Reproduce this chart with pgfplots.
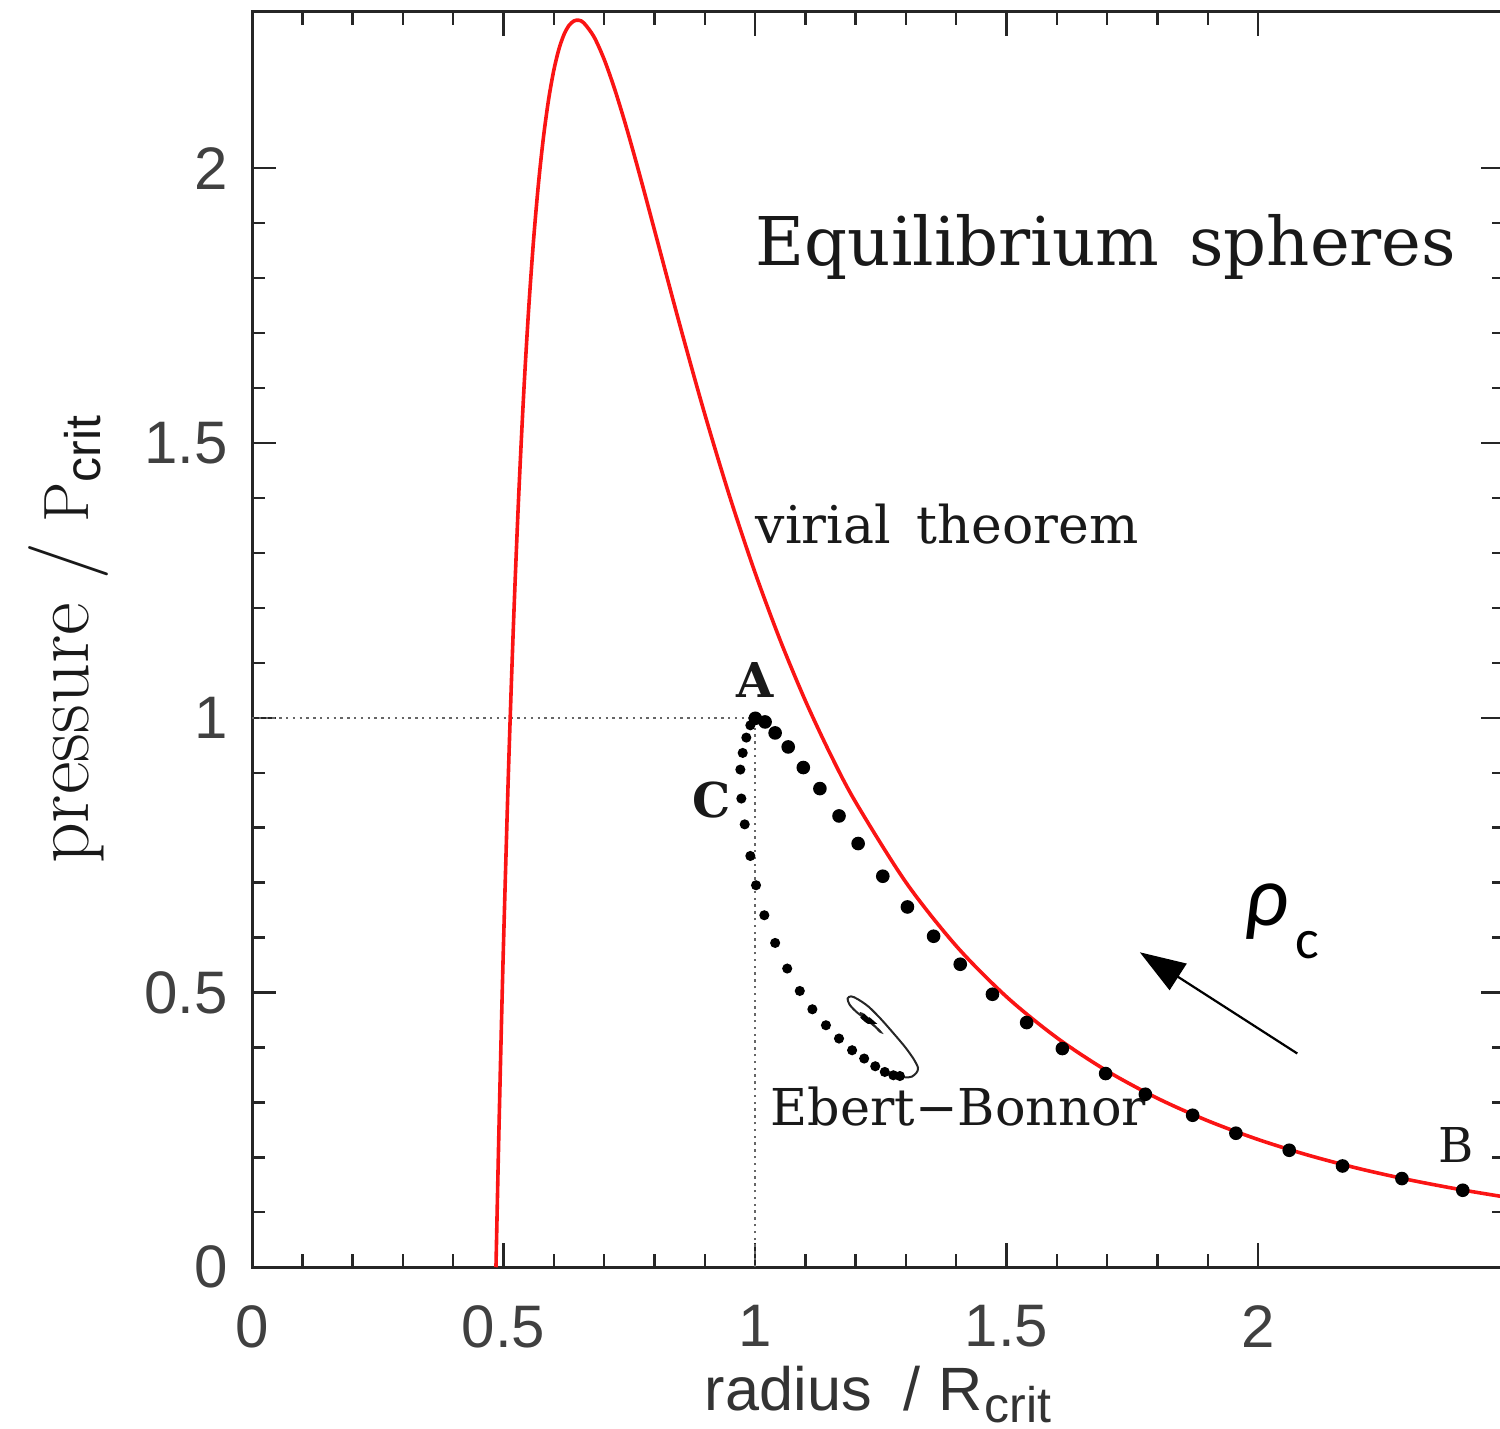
\documentclass[border=0pt]{standalone}
\usepackage{fontspec}
\usepackage{pgfplots}
\pgfplotsset{compat=1.18}
\usetikzlibrary{arrows.meta}
\setmainfont{DejaVu Serif}
\newfontfamily\labelserif{DejaVu Serif}
\newfontfamily\lmroman{Latin Modern Roman}
\newfontfamily\ticksans{Liberation Sans}
\newfontfamily\carlito{Carlito}
\definecolor{virialred}{RGB}{250,20,20}

\begin{document}
\begin{tikzpicture}
\begin{axis}[
  scale only axis,
  width=313.1pt, height=313.8pt,
  xmin=0, xmax=2.49, ymin=0, ymax=2.2845,
  xtick={0,0.5,1,1.5,2},
  ytick={0,0.5,1,1.5,2},
  minor x tick num=4, minor y tick num=4,
  tick align=inside,
  major tick length=6pt, minor tick length=3.2pt,
  axis line style={line width=0.75pt, black!85},
  every tick/.style={line width=0.6pt, black!85},
  tick label style={font=\ticksans\fontsize{15}{18}\selectfont, black!75},
  /pgf/number format/assume math mode=true,
  xticklabel style={yshift=-6pt},
  yticklabel style={xshift=-2.5pt},
  clip=false,
]

% reference lines through the critical point A
\addplot[black!60, line width=0.5pt, dash pattern=on 0.6pt off 1.1pt]
  coordinates {(0,1) (1,1)};
\addplot[black!60, line width=0.5pt, dash pattern=on 0.6pt off 1.1pt]
  coordinates {(1,0) (1,1)};

% virial theorem curve
\addplot[virialred, line width=0.9pt, smooth] coordinates {
(0.485,0) (0.49,0.2129) (0.495,0.4089) (0.50,0.5892) (0.51,0.9072)
(0.52,1.1752) (0.53,1.4001) (0.54,1.5879) (0.55,1.7439) (0.56,1.8723)
(0.57,1.9769) (0.58,2.0609) (0.59,2.1273) (0.60,2.1784) (0.61,2.2164)
(0.62,2.2429) (0.63,2.2597) (0.64,2.2681) (0.65,2.2693) (0.66,2.2642)
(0.68,2.2390) (0.70,2.1984) (0.72,2.1468) (0.74,2.0877) (0.76,2.0236)
(0.78,1.9566) (0.80,1.8880) (0.85,1.7166) (0.90,1.5529) (0.95,1.4016)
(1.00,1.2643) (1.05,1.1412) (1.10,1.0312) (1.15,0.9334) (1.20,0.8465)
(1.30,0.7005) (1.40,0.5847) (1.50,0.4922) (1.60,0.4177) (1.70,0.3571)
(1.80,0.3075) (1.90,0.2666) (2.00,0.2325) (2.10,0.2039) (2.20,0.1797)
(2.30,0.1592) (2.40,0.1417) (2.49,0.1280)
};

% Ebert-Bonnor spheres: stable branch from A to B
\addplot[only marks, mark=*, mark size=1.5pt, black] coordinates {
(1.0006,0.999) (1.020,0.9924) (1.040,0.9724) (1.066,0.9469) (1.096,0.9094)
(1.129,0.8711) (1.167,0.8213) (1.205,0.7711) (1.254,0.7116) (1.303,0.6557)
(1.355,0.6024) (1.408,0.5514) (1.472,0.4968) (1.540,0.4453) (1.611,0.3980)
(1.697,0.3525) (1.776,0.3148) (1.870,0.2766) (1.956,0.2439) (2.062,0.2129)
(2.168,0.1843) (2.286,0.1614) (2.407,0.1401)
};

% unstable branch through C
\addplot[only marks, mark=*, mark size=1.05pt, black] coordinates {
(0.9907,0.9863) (0.9827,0.9639) (0.9755,0.9360) (0.9708,0.9057) (0.9728,0.8530)
(0.9795,0.8060) (0.9907,0.7485) (1.0020,0.6952) (1.0185,0.6406) (1.0400,0.5902)
(1.064,0.5436) (1.089,0.5028) (1.114,0.4695) (1.141,0.4404) (1.167,0.4162)
(1.193,0.3949) (1.217,0.3798) (1.239,0.3658) (1.258,0.3554) (1.275,0.3494)
(1.288,0.3480)
};

% spiral towards the singular isothermal sphere
\addplot[black!85, line width=0.5pt, smooth] coordinates {
(1.288,0.3480) (1.300,0.3455) (1.312,0.3470) (1.321,0.3540) (1.324,0.3630)
(1.316,0.3780) (1.299,0.4000) (1.276,0.4250) (1.251,0.4510) (1.226,0.4740)
(1.204,0.4880) (1.191,0.4930) (1.184,0.4890) (1.188,0.4780) (1.200,0.4660)
(1.215,0.4550) (1.232,0.4430) (1.245,0.4330) (1.250,0.4280) (1.247,0.4300)
(1.237,0.4400) (1.225,0.4520) (1.215,0.4600) (1.211,0.4620) (1.213,0.4580)
(1.220,0.4520) (1.226,0.4480) (1.228,0.4480) (1.224,0.4510) (1.220,0.4530)
(1.219,0.4520) (1.221,0.4500)
};
\addplot[black, line width=1.4pt, smooth] coordinates {
(1.213,0.4580) (1.220,0.4520) (1.226,0.4480) (1.228,0.4480) (1.224,0.4510)
};

% direction of increasing central density
\addplot[black, line width=0.55pt, -{Triangle[length=11.4pt,width=7.8pt]}]
  coordinates {(2.078,0.389) (1.765,0.5732)};

% axis titles
\node[anchor=base, rotate=90, inner sep=0pt, font=\lmroman\fontsize{20}{23}\selectfont, text=black!90]
  at (axis cs:-0.326,1.142)
  {pressure\hspace{6pt}/\hspace{5pt}{\fontsize{16}{18}\selectfont P}\raisebox{-3pt}{\ticksans\fontsize{12.5}{14}\selectfont crit}};
\node[anchor=base, inner sep=0pt, font=\ticksans\fontsize{15.3}{18}\selectfont, black!80]
  at (axis cs:1.245,-0.260)
  {radius\hspace{8pt}/\hspace{4.5pt}R\hspace{0.5pt}\raisebox{-3pt}{\fontsize{12.5}{14}\selectfont crit}};

% annotations
\node[anchor=base west, inner sep=0pt, font=\labelserif\fontsize{16.8}{20}\selectfont, black!90]
  at (axis cs:1.0,1.8235) {Equilibrium\hspace{7.5pt}spheres};
\node[anchor=base west, inner sep=0pt, font=\labelserif\fontsize{13}{16}\selectfont, black!90]
  at (axis cs:1.0,1.3176) {virial\hspace{6.5pt}theorem};
\node[anchor=base west, inner sep=0pt, font=\labelserif\fontsize{12.7}{16}\selectfont, black!90]
  at (axis cs:1.030,0.2584) {Ebert−Bonnor};
\node[anchor=base, inner sep=0pt, font=\labelserif\fontsize{12}{14}\selectfont\bfseries, black!90]
  at (axis cs:1.0,1.037) {A};
\node[anchor=base, inner sep=0pt, font=\labelserif\fontsize{12}{14}\selectfont\bfseries, black!90]
  at (axis cs:0.9145,0.819) {C};
\node[anchor=base, inner sep=0pt, font=\labelserif\fontsize{12}{14}\selectfont, black!90]
  at (axis cs:2.394,0.191) {B};
\node[anchor=base west, inner sep=0pt, font=\carlito\itshape\fontsize{21.5}{24}\selectfont]
  at (axis cs:1.972,0.6224) {ρ};
\node[anchor=base west, inner sep=0pt, font=\carlito\upshape\fontsize{14}{16}\selectfont]
  at (axis cs:2.0736,0.5623) {c};

\coordinate (bbA) at (axis cs:-0.501,-0.293);
\coordinate (bbB) at (axis cs:2.481,2.3063);
\end{axis}
\pgfresetboundingbox
\path[use as bounding box] (bbA) rectangle (bbB);
\end{tikzpicture}
\end{document}
